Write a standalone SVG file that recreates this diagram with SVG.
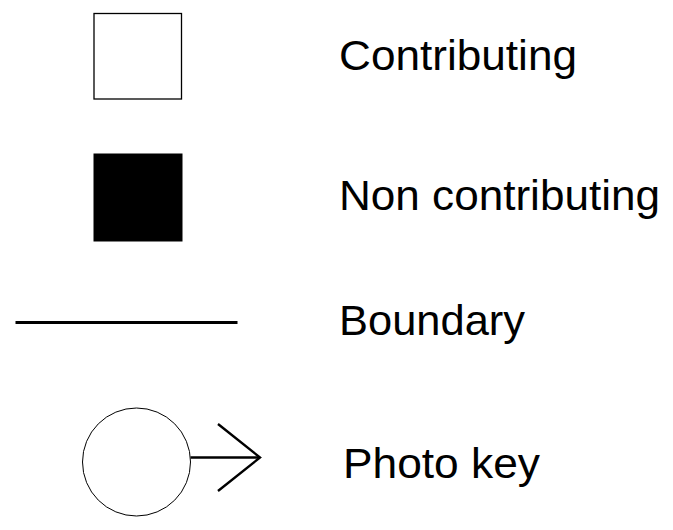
<svg xmlns="http://www.w3.org/2000/svg" width="673" height="530" viewBox="0 0 673 530">
<style>
.lbl{font-family:"Liberation Sans",Arial,sans-serif;font-size:42px;fill:#000}
</style>
<rect width="673" height="530" fill="#fff"/>
<g id="contributing">
<rect x="94" y="13.5" width="87.5" height="85.5" fill="#fff" stroke="#000" stroke-width="1.3"/>
<text class="lbl" x="339" y="70" textLength="238" lengthAdjust="spacingAndGlyphs">Contributing</text>
</g>
<g id="non-contributing">
<rect x="93.5" y="153.5" width="89" height="88" fill="#000"/>
<text class="lbl" x="339" y="210" textLength="321" lengthAdjust="spacingAndGlyphs">Non contributing</text>
</g>
<g id="boundary">
<line x1="15.5" y1="322.5" x2="237.5" y2="322.5" stroke="#000" stroke-width="3"/>
<text class="lbl" x="339" y="335" textLength="186" lengthAdjust="spacingAndGlyphs">Boundary</text>
</g>
<g id="photo-key">
<circle cx="136.5" cy="462" r="54" fill="#fff" stroke="#000" stroke-width="1"/>
<g fill="none" stroke="#000" stroke-width="2.4">
<line x1="190.5" y1="457.5" x2="260" y2="457.5"/>
<polyline points="218,424 260,457.5 218,491"/>
</g>
<text class="lbl" x="343" y="478" textLength="197" lengthAdjust="spacingAndGlyphs">Photo key</text>
</g>
</svg>
